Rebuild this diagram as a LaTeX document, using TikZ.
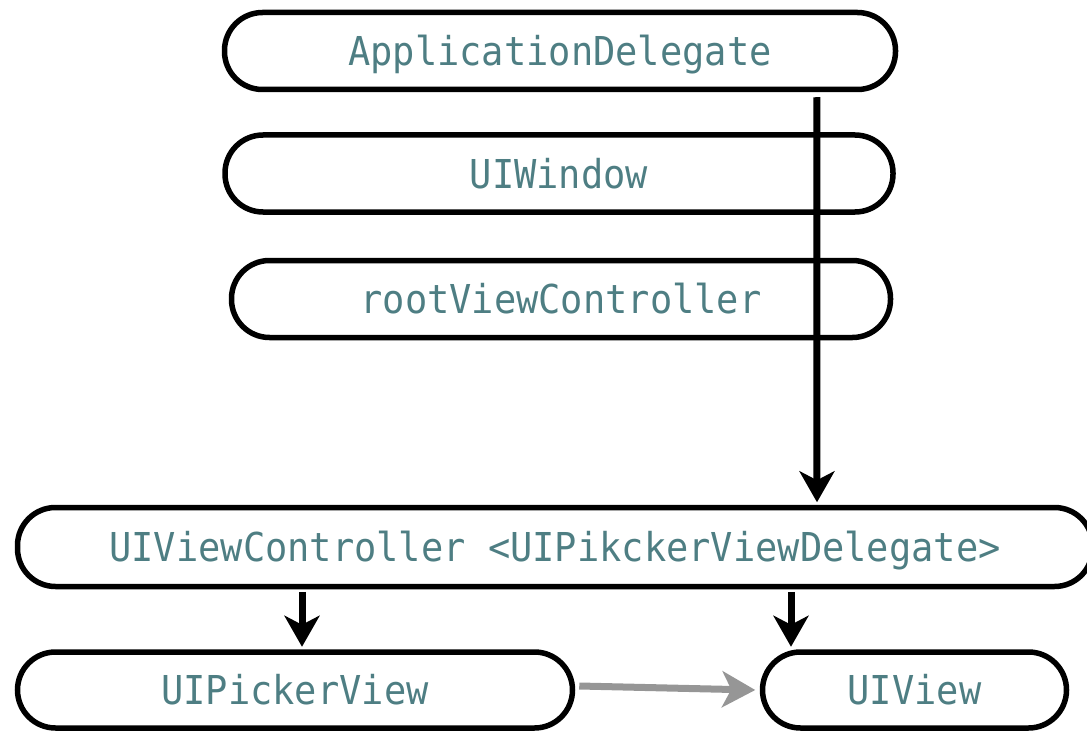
\documentclass[tikz,border=0pt]{standalone}
\usepackage{fontspec}
\setmonofont[FakeStretch=0.93]{DejaVu Sans Mono}
\usetikzlibrary{arrows.meta}
\definecolor{labelteal}{RGB}{78,126,131}
\definecolor{linkgray}{RGB}{150,150,150}
\begin{document}
\begin{tikzpicture}[x=1pt,y=-1pt,
  pill/.style={draw=black, line width=5.5pt, rounded corners=38pt,
    minimum height=77pt, inner sep=0pt, text height=29pt, text depth=0pt,
    text=labelteal, font=\ttfamily\fontsize{39.8}{42}\selectfont},
  link/.style={draw=black, line width=7pt,
    -{Stealth[length=31pt,width=35pt,inset=9pt]}},
  softlink/.style={draw=linkgray, line width=7pt,
    -{Stealth[length=33pt,width=36pt,inset=9pt]}},
]
\useasboundingbox (0,0) rectangle (1087,733);

% application objects
\node[pill, minimum width=671pt] (app)    at (560,51)    {ApplicationDelegate};
\node[pill, minimum width=668pt] (window) at (559,173.5) {UIWindow};
\node[pill, minimum width=659pt] (root)   at (561,299)   {rootViewController};

% controller and its views
\node[pill, minimum width=1075pt, minimum height=79pt] (vc) at (555,547)
  {UIViewController <UIPikckerViewDelegate>};
\node[pill, minimum width=555pt, minimum height=76pt] (picker) at (295,690) {UIPickerView};
\node[pill, minimum width=304pt, minimum height=76pt] (view)   at (914.5,690) {UIView};

% connectors
\draw[link] ([xshift=-81.5pt,yshift=-5pt]app.south east) -- ([xshift=262pt,yshift=2.5pt]vc.north);
\draw[link] ([xshift=-253pt,yshift=-2.5pt]vc.south) -- ([xshift=7pt,yshift=2.5pt]picker.north);
\draw[link] ([xshift=236pt,yshift=-2.5pt]vc.south) -- ([xshift=-123.5pt,yshift=2.5pt]view.north);
\draw[softlink] ([xshift=4pt,yshift=4pt]picker.east) -- ([xshift=-4.5pt,yshift=0pt]view.west);
\end{tikzpicture}
\end{document}
